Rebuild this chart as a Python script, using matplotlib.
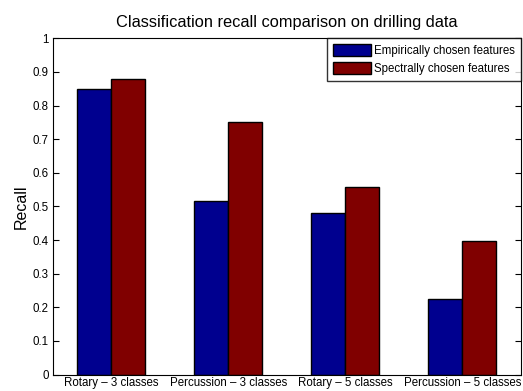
import numpy as np
import matplotlib.pyplot as plt

plt.rcParams['font.family'] = ['Liberation Sans', 'DejaVu Sans']

categories = ['Rotary \u2013 3 classes', 'Percussion \u2013 3 classes',
              'Rotary \u2013 5 classes', 'Percussion \u2013 5 classes']
empirical = [0.85, 0.515, 0.48, 0.225]
spectral = [0.88, 0.75, 0.557, 0.397]

x = np.arange(1, len(categories) + 1)
w = 0.29

fig = plt.figure(figsize=(5.23, 3.91), dpi=100)
ax = fig.add_axes([0.101, 0.042, 0.895, 0.860])

ax.bar(x - w / 2, empirical, w, color=(0, 0, 0.56), edgecolor='black',
       linewidth=1, label='Empirically chosen features')
ax.bar(x + w / 2, spectral, w, color=(0.5, 0, 0), edgecolor='black',
       linewidth=1, label='Spectrally chosen features')

ax.set_xlim(0.5, 4.5)
ax.set_ylim(0, 1)
ax.set_xticks(x)
ax.set_xticklabels(categories, fontsize=8.3)
yt = np.arange(0, 1.01, 0.1)
ax.set_yticks(yt)
ax.set_yticklabels(['0'] + [f'{v:.1f}' for v in yt[1:-1]] + ['1'], fontsize=8.3)
ax.tick_params(direction='in', right=True, top=True, length=4, pad=3)
ax.tick_params(axis='x', length=0, pad=2)
ax.set_ylabel('Recall', fontsize=11.5, labelpad=3)
ax.set_title('Classification recall comparison on drilling data', fontsize=11.8, pad=8)

leg = ax.legend(loc='upper right', fontsize=8.3, frameon=True, fancybox=False,
                borderaxespad=0, handlelength=3.3, handleheight=1.15,
                borderpad=0.5, labelspacing=0.5, handletextpad=0.3)
leg.get_frame().set_edgecolor('black')
leg.get_frame().set_linewidth(1)

fig.savefig('out.png', dpi=100)
